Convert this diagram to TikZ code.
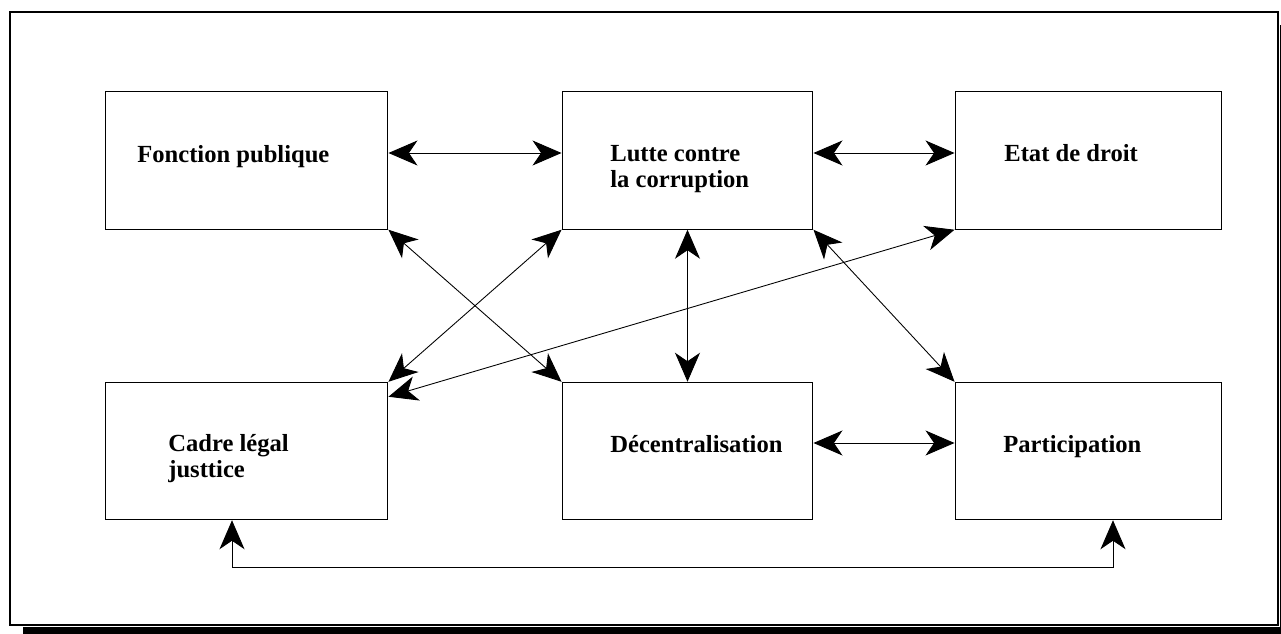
\documentclass[tikz,border=0pt]{standalone}
\usepackage{fontspec}
\setmainfont{Liberation Serif}
\usetikzlibrary{arrows.meta}
\begin{document}
\begin{tikzpicture}
  [x=0.02cm,y=-0.02cm,
  every node/.style={font=\fontsize{14}{15}\selectfont\bfseries},
  bx/.style={draw,line width=0.57pt,inner sep=0,minimum height=2.75cm},
  lbl/.style={anchor=base west,inner sep=0,align=left},
  lnk/.style={line width=0.5pt,{Stealth[length=0.58cm,width=0.5cm,inset=0.17cm]}-{Stealth[length=0.58cm,width=0.5cm,inset=0.17cm]}}]
  \useasboundingbox (0,0) rectangle (1281,634);
  % cadre et ombre
  \draw[line width=1.1pt] (10,12) rectangle (1278,625);
  \fill (23,627) rectangle (1286,634);
  \fill (1280,25) rectangle (1286,634);
  % boites
  \node[bx,minimum width=5.66cm] (fp) at (246.5,160.5) {};
  \node[bx,minimum width=5.02cm] (lc) at (687.5,160.5) {};
  \node[bx,minimum width=5.34cm] (ed) at (1088.5,160.5) {};
  \node[bx,minimum width=5.66cm] (cl) at (246.5,451) {};
  \node[bx,minimum width=5.02cm] (dc) at (687.5,451) {};
  \node[bx,minimum width=5.34cm] (pa) at (1088.5,451) {};
  \node[lbl] (tfp) at (137,163) {Fonction publique};
  \node[lbl] (tlc) at (610,188) {Lutte contre\\la corruption};
  \node[lbl] (ted) at (1004,162) {Etat de droit};
  \node[lbl] (tcl) at (168,478) {Cadre légal\\justtice};
  \node[lbl] (tdc) at (610,453) {Décentralisation};
  \node[lbl] (tpa) at (1003,453) {Participation};
  % liens
  \draw[lnk] ([yshift=0.15cm]fp.east) -- ([yshift=0.15cm]lc.west);
  \draw[lnk] ([yshift=0.15cm]lc.east) -- ([yshift=0.15cm]ed.west);
  \draw[lnk] ([yshift=0.16cm]dc.east) -- ([yshift=0.16cm]pa.east -| pa.west);
  \draw[lnk] (fp.south east) -- (dc.north west);
  \draw[lnk] (lc.south west) -- (cl.north east);
  \draw[lnk] (ed.south west) -- ([yshift=-0.3cm]cl.north east);
  \draw[lnk] (lc.south) -- (dc.north);
  \draw[lnk] (lc.south east) -- (pa.north west);
  \coordinate (bas) at (0,567);
  \draw[lnk] ([xshift=-0.29cm]cl.south) -- ([xshift=-0.29cm]cl.south |- bas) -| ([xshift=0.49cm]pa.south);
\end{tikzpicture}
\end{document}
